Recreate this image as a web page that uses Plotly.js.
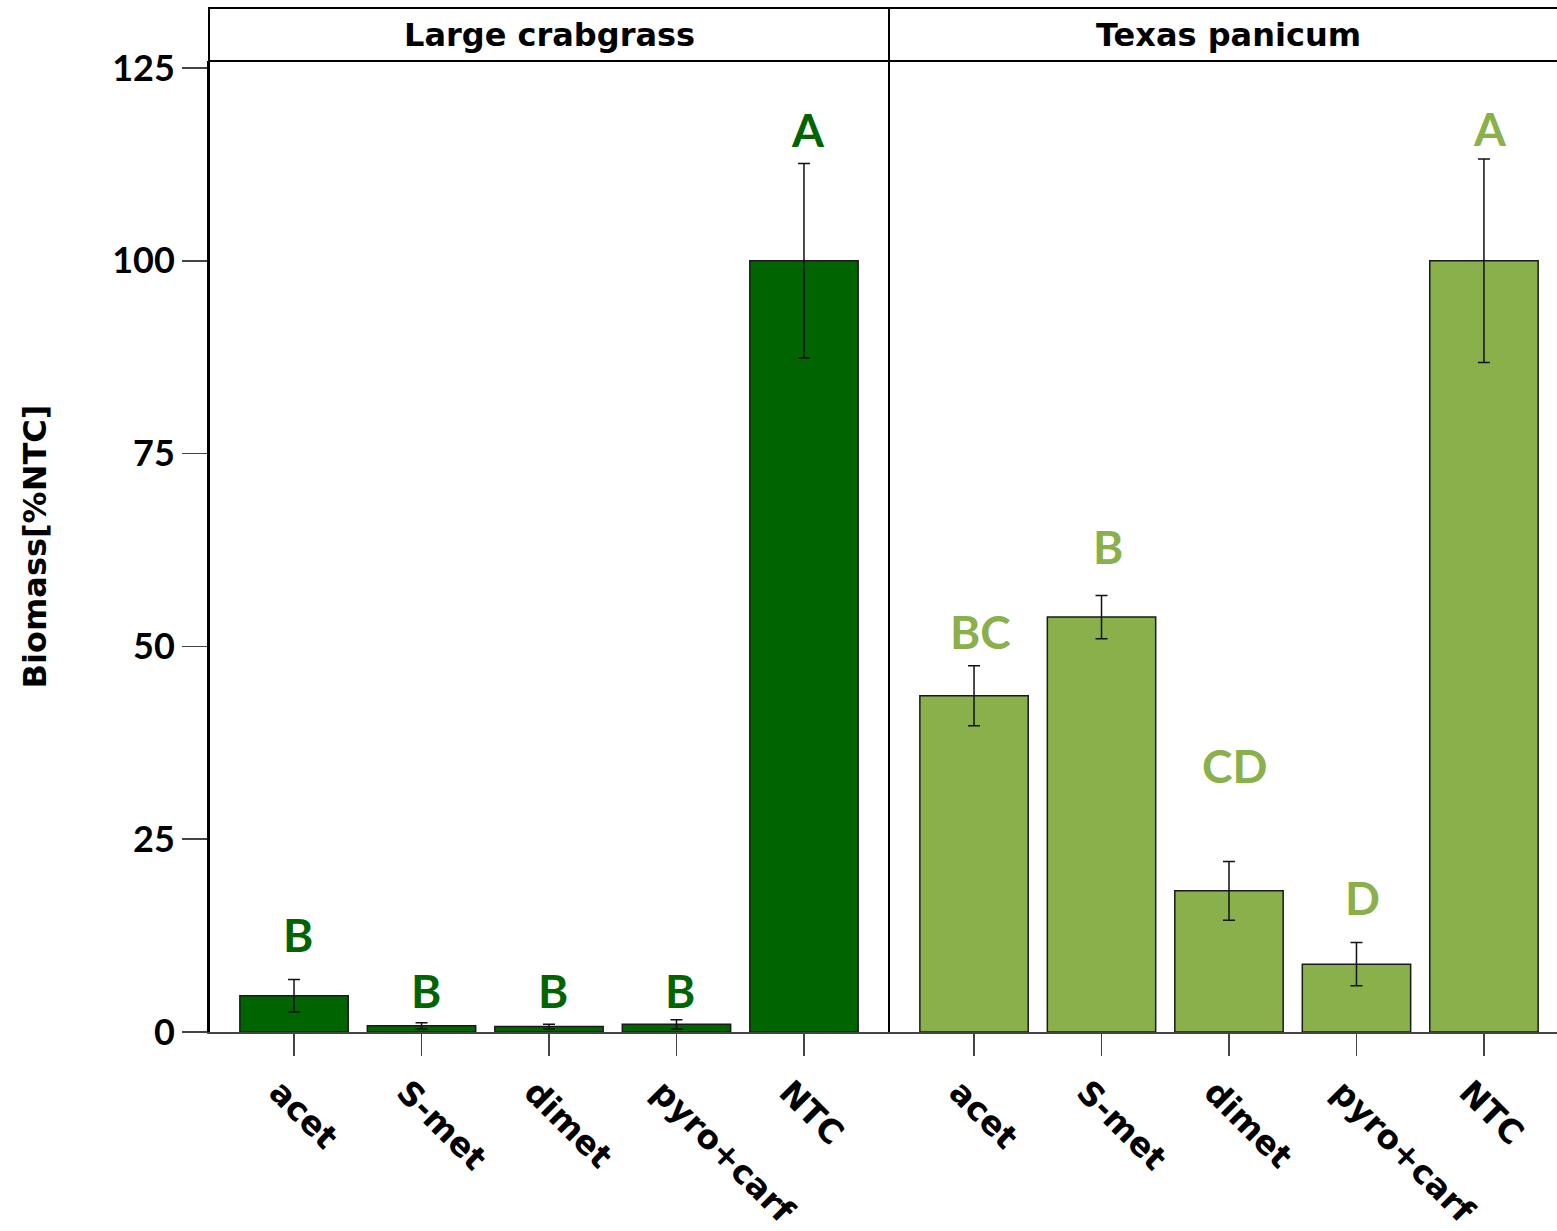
<!DOCTYPE html>
<html><head><meta charset="utf-8">
<script src="https://cdn.plot.ly/plotly-3.0.1.min.js"></script>
<style>body{margin:0;background:#fff}</style></head>
<body><div id="chart" style="width:1557px;height:1231px"></div>
<script>
const treatments = ['acet','S-met','dimet','pyro+carf','NTC'];
const panelTitles = ['Large crabgrass','Texas panicum'];
const crabgrassMean = [4.7, 0.8, 0.7, 1.0, 100];
const crabgrassErr = [2.1, 0.4, 0.3, 0.6, 12.6];
const crabgrassLetters = ['B','B','B','B','A'];
const crabgrassLetterY = [12.6, 5.4, 5.4, 5.4, 117];
const panicumMean = [43.6, 53.8, 18.3, 8.8, 100];
const panicumErr = [3.9, 2.8, 3.8, 2.8, 13.2];
const panicumLetters = ['BC','B','CD','D','A'];
const panicumLetterY = [51.9, 62.9, 34.5, 17.5, 117.2];
const yTicks = [0, 25, 50, 75, 100, 125];

const FONT = 'Lato, "Open Sans", sans-serif';
const WIDE = '"DejaVu Sans", Verdana, sans-serif';
const darkGreen = '#006400';
const lightGreen = '#89b04a';
const W = 1557, H = 1231, ML = 209, MT = 61, MB = 199;
const plotW = W - ML, plotH = H - MT - MB;
const d = 680 / plotW;
const stripTop = 1 + 53 / plotH;

function barTrace(means, errs, color, xa) {
  return {
    type: 'bar', x: treatments, y: means, xaxis: xa, yaxis: 'y', width: 0.85,
    marker: {color: color, line: {color: '#1a1a1a', width: 1.5}},
    error_y: {type: 'data', array: errs, visible: true, color: '#111', thickness: 1.5, width: 6},
    hoverinfo: 'x+y', showlegend: false
  };
}

const data = [
  barTrace(crabgrassMean, crabgrassErr, darkGreen, 'x'),
  barTrace(panicumMean, panicumErr, lightGreen, 'x2')
];

const annotations = [];
treatments.forEach((t, i) => {
  annotations.push({xref: 'x', yref: 'y', x: t, y: crabgrassLetterY[i], text: crabgrassLetters[i],
    showarrow: false, xshift: 4, font: {family: FONT, size: 46, weight: 'bold', color: darkGreen}, yanchor: 'middle'});
  annotations.push({xref: 'x2', yref: 'y', x: t, y: panicumLetterY[i], text: panicumLetters[i],
    showarrow: false, xshift: 6, font: {family: FONT, size: 46, weight: 'bold', color: lightGreen}, yanchor: 'middle'});
});
annotations.push({xref: 'x', yref: 'paper', x: treatments[2], y: (1 + stripTop) / 2, text: panelTitles[0],
  showarrow: false, yanchor: 'middle', font: {family: WIDE, size: 32, weight: 'bold', color: '#000'}});
annotations.push({xref: 'x2', yref: 'paper', x: treatments[2], y: (1 + stripTop) / 2, text: panelTitles[1],
  showarrow: false, yanchor: 'middle', font: {family: WIDE, size: 32, weight: 'bold', color: '#000'}});

const xCommon = {
  type: 'category', categoryorder: 'array', categoryarray: treatments,
  ticks: 'outside', ticklen: 22, tickwidth: 1.5, tickcolor: '#444',
  tickangle: 45, ticklabelshift: -15, ticklabelstandoff: 4,
  showline: true, linecolor: '#444', linewidth: 1.5,
  showgrid: false, zeroline: false, anchor: 'y', fixedrange: true,
  tickfont: {family: WIDE, size: 33, weight: 'bold', color: '#000'}
};

const layout = {
  width: W, height: H,
  margin: {l: ML, r: 0, t: MT, b: MB, pad: 0},
  paper_bgcolor: '#fff', plot_bgcolor: '#fff',
  showlegend: false,
  xaxis: Object.assign({}, xCommon, {domain: [0, d], range: [-0.667, 4.667]}),
  xaxis2: Object.assign({}, xCommon, {domain: [d, 1], range: [-0.667, 4.573]}),
  yaxis: {
    range: [0, 125.9], tickvals: yTicks, ticktext: yTicks.map(String),
    ticks: 'outside', ticklen: 25, tickwidth: 1.5, tickcolor: '#444',
    showline: true, linecolor: '#000', linewidth: 2, showgrid: false, zeroline: false,
    tickfont: {family: FONT, size: 36, weight: 'bold', color: '#000'},
    title: {text: 'Biomass[%NTC]', standoff: 56, font: {family: WIDE, size: 32, weight: 'bold', color: '#000'}},
    automargin: false, fixedrange: true
  },
  shapes: [
    {type: 'rect', xref: 'paper', yref: 'paper', x0: 0, x1: 1.01, y0: 1, y1: stripTop,
     line: {color: '#000', width: 2}, fillcolor: '#fff', layer: 'below'},
    {type: 'line', xref: 'paper', yref: 'paper', x0: d, x1: d, y0: 0, y1: stripTop,
     line: {color: '#000', width: 2}},
    {type: 'line', xref: 'paper', yref: 'paper', x0: 0, x1: 0, y0: 0, y1: stripTop,
     line: {color: '#000', width: 2}}
  ],
  annotations: annotations,
  bargap: 0.15
};

Plotly.newPlot('chart', data, layout, {displayModeBar: false, staticPlot: true});
</script></body></html>
